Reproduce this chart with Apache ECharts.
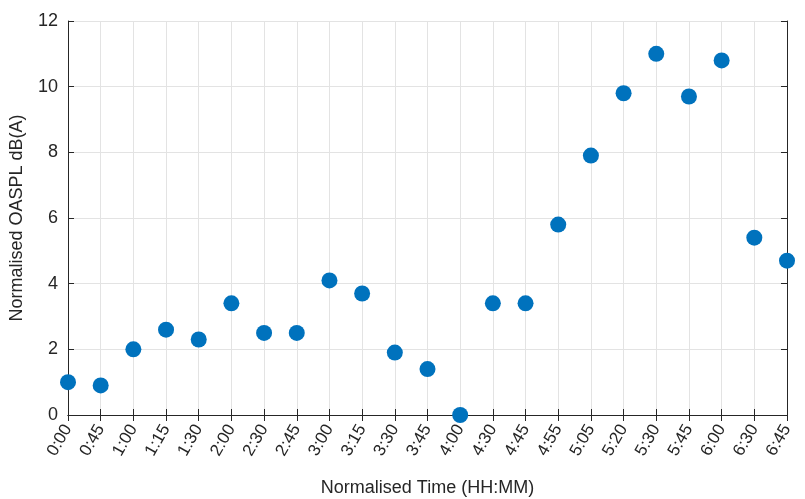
<!DOCTYPE html>
<html><head><meta charset="utf-8">
<script src="https://cdn.jsdelivr.net/npm/echarts@6/dist/echarts.min.js"></script>
<style>html,body{margin:0;padding:0;background:#fff}#c{width:805px;height:499px}</style>
</head><body><div id="c"></div>
<script>
const categories = ["0:00","0:45","1:00","1:15","1:30","2:00","2:30","2:45","3:00","3:15","3:30","3:45","4:00","4:30","4:45","4:55","5:05","5:20","5:30","5:45","6:00","6:30","6:45"];
const oaspl = [1.0,0.9,2.0,2.6,2.3,3.4,2.5,2.5,4.1,3.7,1.9,1.4,0.0,3.4,3.4,5.8,7.9,9.8,11.0,9.7,10.8,5.4,4.7];
const yTicks = {min:0, max:12, interval:2};

const font = "Helvetica, Arial, 'Liberation Sans', sans-serif";
const axisCol = '#262626';
const chart = echarts.init(document.getElementById('c'), null, {renderer:'canvas'});
chart.setOption({
  animation:false,
  grid:{left:68, right:18, top:21, bottom:84, containLabel:false, outerBoundsMode:'none'},
  xAxis:[{
    type:'category', data:categories, boundaryGap:false,
    name:'Normalised Time (HH:MM)', nameLocation:'middle', nameGap:64,
    nameTextStyle:{fontFamily:font, fontSize:18, color:axisCol},
    axisLine:{lineStyle:{color:axisCol, width:1}},
    axisTick:{inside:true, length:6, lineStyle:{color:axisCol}, alignWithLabel:true},
    axisLabel:{rotate:60, fontFamily:font, fontSize:17, color:axisCol, margin:11, interval:0},
    splitLine:{show:true, lineStyle:{color:'#e3e3e3', width:1}}
  },{
    type:'category', data:categories, boundaryGap:false, position:'top',
    axisLine:{lineStyle:{color:axisCol, width:1}},
    axisTick:{inside:true, length:6, lineStyle:{color:axisCol}},
    axisLabel:{show:false}, splitLine:{show:false}
  }],
  yAxis:[{
    type:'value', min:yTicks.min, max:yTicks.max, interval:yTicks.interval,
    name:'Normalised OASPL dB(A)', nameLocation:'middle', nameGap:42,
    nameTextStyle:{fontFamily:font, fontSize:18, color:axisCol},
    axisLine:{show:true, lineStyle:{color:axisCol, width:1}},
    axisTick:{show:true, inside:true, length:6, lineStyle:{color:axisCol}},
    axisLabel:{fontFamily:font, fontSize:18, color:axisCol, margin:10},
    splitLine:{show:true, lineStyle:{color:'#e3e3e3', width:1}}
  },{
    type:'value', min:yTicks.min, max:yTicks.max, interval:yTicks.interval, position:'right',
    axisLine:{show:true, lineStyle:{color:axisCol, width:1}},
    axisTick:{show:true, inside:true, length:6, lineStyle:{color:axisCol}},
    axisLabel:{show:false}, splitLine:{show:false}
  }],
  series:[{
    type:'scatter', data:oaspl, xAxisIndex:0, yAxisIndex:0,
    symbol:'circle', symbolSize:16,
    itemStyle:{color:'#0072BD', opacity:1},
    clip:false
  }]
});
</script></body></html>
